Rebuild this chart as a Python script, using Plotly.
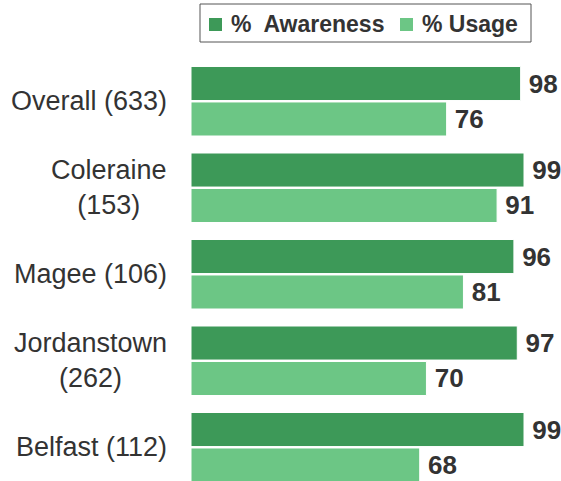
import plotly.graph_objects as go

categories = ["Overall (633)", "Coleraine<br>(153)", "Magee (106)", "Jordanstown<br>(262)", "Belfast (112)"]
awareness = [98, 99, 96, 97, 99]
usage = [76, 91, 81, 70, 68]
series_names = ["%  Awareness", "% Usage"]
colors = ["#3d9958", "#6cc685"]

FONT = "Liberation Sans, Arial, sans-serif"
TXT = "#333333"

fig = go.Figure()
for name, vals, col in zip(series_names, [awareness, usage], colors):
    fig.add_trace(go.Bar(
        y=categories, x=vals, name=name, orientation="h",
        marker=dict(color=col, line=dict(color="white", width=1)),
        text=vals, textposition="outside", cliponaxis=False,
        textfont=dict(family=FONT, size=26, color=TXT),
        texttemplate="\u2009<b>%{text}</b>", showlegend=False,
    ))

for c in categories:
    fig.add_annotation(
        x=0, xref="paper", y=c, yref="y", xanchor="right", xshift=-22,
        text=c, showarrow=False, align="center",
        font=dict(family=FONT, size=27, color=TXT),
    )

# manual legend (plot area: x 191..561 px, y 58..481 px)
L, T = 191, 58
W, H = 561 - L, 481 - T
px = lambda x: (x - L) / W
py = lambda y: 1 - (y - T) / H
fig.add_shape(type="rect", xref="paper", yref="paper",
              x0=px(200), x1=px(531), y0=py(42), y1=py(4),
              line=dict(color="#555555", width=1), fillcolor="white")
legend_items = [(209, 230), (400, 421)]
for (sx, tx), name, col in zip(legend_items, series_names, colors):
    fig.add_shape(type="rect", xref="paper", yref="paper",
                  x0=px(sx), x1=px(sx + 13), y0=py(31), y1=py(18),
                  line=dict(width=0), fillcolor=col)
    fig.add_annotation(x=px(tx - 1), y=py(24), xref="paper", yref="paper",
                       xanchor="left", yanchor="middle", showarrow=False,
                       text="<b>" + name.replace("  ", "&nbsp; ") + "</b>",
                       font=dict(family=FONT, size=23, color=TXT))

fig.update_layout(
    width=561, height=481,
    margin=dict(l=L, r=0, t=T, b=0),
    barmode="group", bargap=0.18, bargroupgap=0.04,
    plot_bgcolor="white", paper_bgcolor="white",
    font=dict(family=FONT, color=TXT),
    showlegend=False,
    xaxis=dict(range=[0, 110], visible=False),
    yaxis=dict(range=[4.39, -0.5], showticklabels=False, showgrid=False, zeroline=False),
)
fig.write_html("out.html", config={"displayModeBar": False},
               post_script="document.body.style.margin='0';document.body.style.overflow='hidden';")
